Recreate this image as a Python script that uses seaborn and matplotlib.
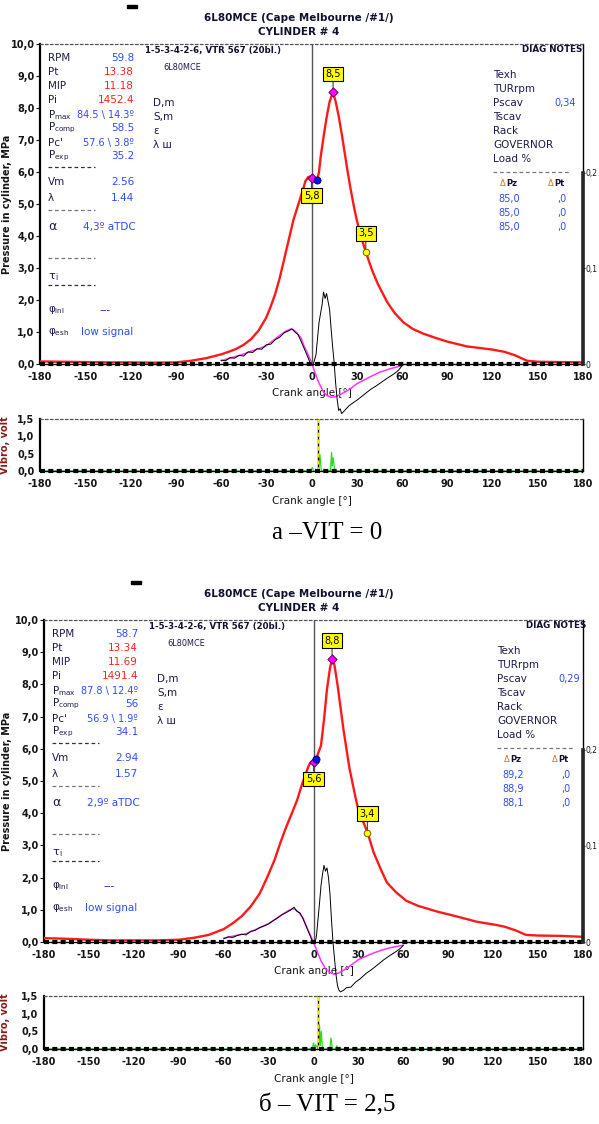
import matplotlib
matplotlib.use("Agg")
import matplotlib.pyplot as plt
import seaborn as sns
from matplotlib.patches import Rectangle

sns.set_style("white")
plt.rcParams['font.family'] = ['DejaVu Sans']
plt.rcParams['axes.unicode_minus'] = False

W, H = 599, 1124

# ---------------- data ----------------
angle_ticks = list(range(-180, 181, 30))
pressure_ticks = [0, 1, 2, 3, 4, 5, 6, 7, 8, 9, 10]
vibro_ticks = [0.0, 0.5, 1.0, 1.5]
right_ticks = [0.0, 0.1, 0.2]

# panel a (VIT = 0)
a_press_angle = [-180, -165, -150, -135, -120, -105, -90, -80, -70, -60, -55, -50, -45, -40, -35, -30, -27, -24, -21, -18,
                 -15, -12, -9, -6, -4, -2, 0, 2, 3.8, 5, 6, 8, 10, 12, 14.3, 16, 18, 20, 22, 24,
                 26, 28, 30, 33, 36, 40, 44, 50, 55, 61, 67, 74, 82, 90, 103, 120, 128, 135, 143, 150, 165, 180]
a_press = [0.08, 0.07, 0.06, 0.05, 0.05, 0.04, 0.05, 0.1, 0.18, 0.3, 0.38, 0.47, 0.6, 0.78, 1.05, 1.45, 1.8, 2.2, 2.7, 3.3,
           3.9, 4.5, 4.95, 5.4, 5.72, 5.85, 5.86, 5.72, 5.76, 6.0, 6.45, 7.1, 7.7, 8.2, 8.5, 8.2, 7.75, 7.2, 6.6, 6.0,
           5.45, 4.95, 4.5, 3.95, 3.5, 2.95, 2.5, 1.95, 1.6, 1.3, 1.1, 0.95, 0.82, 0.7, 0.55, 0.45, 0.38, 0.27, 0.1, 0.07, 0.06, 0.05]
a_hr_angle = [-60, -55, -50, -45, -40, -35, -30, -25, -20, -17, -14, -12, -10, -7, -5, -3, 0, 3, 5, 8, 10, 13, 16, 20, 25, 30, 38, 45, 52, 60]
a_hr = [0.1, 0.17, 0.24, 0.31, 0.4, 0.48, 0.57, 0.75, 0.93, 1.03, 1.09, 1.07, 0.99, 0.82, 0.57, 0.37, 0.05, -0.36, -0.6, -0.88,
        -0.98, -1.04, -1.02, -0.93, -0.8, -0.62, -0.42, -0.26, -0.15, -0.05]
a_bl_angle = [-60, -57, -54, -51, -48, -45, -42, -39, -36, -33, -30, -27, -24, -21, -18, -15, -13, -11, -9, -7,
              -5, -3, -1, 1, 3, 5, 7, 8, 9, 10, 11, 12, 13, 14, 15, 16, 17, 18, 19, 20,
              22, 25, 28, 31, 35, 39, 43, 47, 51, 55, 58, 60]
a_bl = [0.12, 0.1, 0.2, 0.18, 0.27, 0.25, 0.38, 0.36, 0.48, 0.46, 0.6, 0.62, 0.76, 0.84, 0.98, 1.04, 1.1, 1.0, 0.92, 0.72,
        0.5, 0.28, 0.05, -0.05, 0.3, 1.3, 1.85, 2.25, 2.05, 2.2, 1.95, 1.7, 1.1, 0.55, 0.05, -0.6, -1.1, -1.45, -1.4, -1.55,
        -1.45, -1.3, -1.2, -1.1, -0.95, -0.8, -0.68, -0.55, -0.42, -0.3, -0.18, -0.05]
a_mark_angle = [0.0, 14.3, 36.0]
a_mark_val = [5.8, 8.5, 3.5]
a_pc_angle, a_pc_val = 3.8, 5.76
a_vib_angle = [-180, -0.5, 0.5, 1.5, 4.5, 5.6, 6.5, 12.5, 13.3, 13.8, 14.3, 15.5, 40.5, 41.5, 42.5, 180]
a_vib = [0, 0, 0.1, 0, 0, 0.47, 0, 0, 0.54, 0.15, 0.38, 0, 0, 0.03, 0, 0]
a_alpha = 4.3
a_params = ["59.8", "13.38", "11.18", "1452.4", "84.5 \\ 14.3º", "58.5", "57.6 \\ 3.8º", "35.2"]
a_vm_lambda = ["2.56", "1.44"]
a_alpha_txt = "4,3º aTDC"
a_pscav = "0,34"
a_dpz = [85.0, 85.0, 85.0]
a_dpt = [0.0, 0.0, 0.0]

# panel b (VIT = 2,5)
b_press_angle = [-180, -165, -150, -135, -120, -105, -90, -80, -70, -60, -54, -48, -42, -36, -31, -26, -22, -18, -14, -11,
                 -8, -5, -3, -1, 0, 1.9, 3, 5, 7, 9, 11, 12.4, 14, 16, 18, 20, 22, 24, 26, 28,
                 30, 33, 36, 40, 45, 49, 55, 62, 70, 83, 96, 109, 122, 128, 135, 142, 150, 165, 180]
b_press = [0.12, 0.1, 0.07, 0.05, 0.05, 0.05, 0.07, 0.13, 0.22, 0.4, 0.58, 0.8, 1.1, 1.5, 2.0, 2.55, 3.1, 3.6, 4.05, 4.4,
           4.85, 5.25, 5.5, 5.62, 5.65, 5.7, 5.85, 6.1, 6.9, 7.85, 8.5, 8.8, 8.6, 8.0, 7.3, 6.6, 6.0, 5.4, 4.95, 4.5,
           4.1, 3.75, 3.42, 2.8, 2.25, 1.85, 1.55, 1.28, 1.12, 0.94, 0.79, 0.63, 0.53, 0.47, 0.36, 0.22, 0.2, 0.19, 0.16]
b_hr_angle = [-60, -55, -50, -45, -40, -35, -30, -25, -20, -17, -14, -12, -10, -7, -5, -3, 0, 3, 5, 8, 11, 14, 17, 20, 25, 30, 38, 45, 52, 60]
b_hr = [0.12, 0.17, 0.22, 0.26, 0.36, 0.46, 0.57, 0.72, 0.88, 0.97, 1.04, 1.0, 0.93, 0.75, 0.52, 0.3, 0.0, -0.36, -0.58, -0.83,
        -0.95, -1.0, -0.96, -0.88, -0.72, -0.55, -0.38, -0.26, -0.17, -0.1]
b_bl_angle = [-60, -57, -54, -51, -48, -45, -42, -39, -36, -33, -30, -27, -24, -21, -18, -15, -13, -11, -9, -7,
              -5, -3, -1, 1, 2, 4, 5, 6, 7, 8, 9, 10, 11, 12, 13, 14, 15, 16, 17, 18,
              20, 22, 25, 28, 31, 35, 39, 43, 47, 51, 55, 58, 60]
b_bl = [0.1, 0.16, 0.14, 0.2, 0.24, 0.22, 0.33, 0.36, 0.45, 0.5, 0.56, 0.66, 0.75, 0.85, 0.92, 1.0, 1.08, 0.95, 0.9, 0.72,
        0.5, 0.28, 0.05, -0.05, 0.2, 1.2, 1.75, 2.1, 2.38, 2.2, 2.3, 2.0, 1.5, 0.7, 0.0, -0.5, -1.0, -1.35, -1.5, -1.55,
        -1.5, -1.42, -1.4, -1.25, -1.15, -0.98, -0.85, -0.7, -0.55, -0.42, -0.3, -0.2, -0.1]
b_mark_angle = [0.0, 12.4, 36.0]
b_mark_val = [5.6, 8.8, 3.4]
b_pc_angle, b_pc_val = 1.9, 5.69
b_vib_angle = [-180, -0.8, 0, 0.8, 1.5, 3.2, 4.0, 4.6, 5.2, 6, 10.8, 11.7, 12.6, 14.8, 15.5, 16.2, 180]
b_vib = [0, 0, 0.17, 0.05, 0.12, 0, 0.68, 0.1, 0.5, 0, 0, 0.31, 0, 0, 0.09, 0, 0]
b_alpha = 2.9
b_params = ["58.7", "13.34", "11.69", "1491.4", "87.8 \\ 12.4º", "56", "56.9 \\ 1.9º", "34.1"]
b_vm_lambda = ["2.94", "1.57"]
b_alpha_txt = "2,9º aTDC"
b_pscav = "0,29"
b_dpz = [89.2, 88.9, 88.1]
b_dpt = [0.0, 0.0, 0.0]

param_labels = ["RPM", "Pt", "MIP", "Pi", "P$_{\\mathregular{max}}$", "P$_{\\mathregular{comp}}$", "Pc'", "P$_{\\mathregular{exp}}$"]
param_colors = ["blue", "red", "red", "red", "blue", "blue", "blue", "blue"]
right_labels = ["Texh", "TURrpm", "Pscav", "Tscav", "Rack", "GOVERNOR", "Load %"]
mid_labels = ["D,m", "S,m", "ε", "λ ш"]

NAVY = '#1c1c4a'
BLUE = '#2f4cff'
RED = '#ff2020'
DARK = '#151515'
COLORS = {"blue": BLUE, "red": RED}

panels = [
    dict(main=(40, 44, 583, 364), vib=(40, 419, 583, 471), org=(40, 44), cap_y=533,
         caption="а –VIT = 0", pa=a_press_angle, p=a_press, ha=a_hr_angle, h=a_hr, ba=a_bl_angle, b=a_bl,
         ma=a_mark_angle, mv=a_mark_val, pca=a_pc_angle, pcv=a_pc_val, va=a_vib_angle, v=a_vib, alpha=a_alpha,
         params=a_params, vml=a_vm_lambda, alpha_txt=a_alpha_txt, pscav=a_pscav, dpz=a_dpz, dpt=a_dpt),
    dict(main=(44, 620, 583, 942), vib=(44, 996, 583, 1049), org=(44, 620), cap_y=1105,
         caption="б – VIT = 2,5", pa=b_press_angle, p=b_press, ha=b_hr_angle, h=b_hr, ba=b_bl_angle, b=b_bl,
         ma=b_mark_angle, mv=b_mark_val, pca=b_pc_angle, pcv=b_pc_val, va=b_vib_angle, v=b_vib, alpha=b_alpha,
         params=b_params, vml=b_vm_lambda, alpha_txt=b_alpha_txt, pscav=b_pscav, dpz=b_dpz, dpt=b_dpt),
]


def rect(l, t, r, b):
    return [l / W, 1 - b / H, (r - l) / W, (b - t) / H]


def comma(v, nd=1):
    return f"{v:.{nd}f}".replace('.', ',')


fig = plt.figure(figsize=(W / 100, H / 100), dpi=100)
fig.patch.set_facecolor('white')


def style_common(ax):
    ax.set_facecolor('none')
    ax.set_xlim(-180, 180)
    ax.set_xticks(angle_ticks)
    ax.set_xticklabels([str(t) for t in angle_ticks], fontsize=7, fontweight='bold', color=DARK)
    ax.tick_params(axis='x', length=3, width=0.8, pad=3, colors=DARK)
    ax.tick_params(axis='y', length=3, width=0.8, pad=1, colors=DARK)
    ax.spines['left'].set_linewidth(1.6)
    ax.spines['left'].set_color('black')
    ax.spines['right'].set_linewidth(1.0)
    ax.spines['right'].set_color('black')
    ax.spines['top'].set_linestyle((0, (2, 2)))
    ax.spines['top'].set_color('#555555')
    ax.spines['top'].set_linewidth(0.9)
    ax.spines['bottom'].set_visible(False)
    ax.axhline(0, color='black', lw=1.0, zorder=6, clip_on=False)
    ax.axhline(0, color='black', lw=3.0, ls=(0, (1.2, 0.8)), zorder=6, clip_on=False)


for pn in panels:
    l, t, r, b = pn['main']
    ax = fig.add_axes(rect(l, t, r, b))
    style_common(ax)
    ax.set_ylim(0, 10)
    ax.set_yticks(pressure_ticks)
    ax.set_yticklabels([comma(v) for v in pressure_ticks], fontsize=7, fontweight='bold', color=DARK)
    ax.set_xlabel("Crank angle [°]", fontsize=7.5, color=DARK)
    ax.xaxis.set_label_coords(0.5, -(24) / (b - t))
    ax.set_ylabel("Pressure in cylinder, MPa", fontsize=7, fontweight='bold', color=DARK)
    ax.yaxis.set_label_coords(-(l - 12) / (r - l), 0.5)

    ax.axvline(0, color='#555555', lw=1.0, zorder=2)
    sns.lineplot(x=pn['ha'], y=pn['h'], ax=ax, color='#ff33ff', lw=1.1, clip_on=False, zorder=3)
    sns.lineplot(x=pn['ba'], y=pn['b'], ax=ax, color='black', lw=0.7, clip_on=False, zorder=3)
    sns.lineplot(x=pn['pa'], y=pn['p'], ax=ax, color='#ff1a1a', lw=1.7, zorder=4)

    # markers and yellow labels
    mcols = [('#ff00ff', '#660066'), ('#ff00ff', '#660066'), ('#ffff00', '#666600')]
    offs = [-12.5, 13.0, 13.5]
    for ang, val, (fc, ec), dy in zip(pn['ma'], pn['mv'], mcols, offs):
        ax.annotate(comma(val), xy=(ang, val), xytext=(0, dy), textcoords='offset points',
                    ha='center', va='center', fontsize=7, color='black', zorder=8,
                    bbox=dict(boxstyle='square,pad=0.25', fc='#ffff00', ec='black', lw=0.8),
                    arrowprops=dict(arrowstyle='-', color='#444444', lw=0.8, shrinkA=0, shrinkB=0))
        sns.scatterplot(x=[ang], y=[val], ax=ax, color=fc, edgecolor=ec, marker='D' if fc == '#ff00ff' else 'o',
                        s=22, linewidth=0.7, zorder=9)
    sns.scatterplot(x=[pn['pca']], y=[pn['pcv']], ax=ax, color='#0010ee', edgecolor='#000060', s=26,
                    linewidth=0.6, zorder=9)

    # secondary right axis
    ax2 = ax.twinx()
    ax2.set_ylim(0, 0.335)
    ax2.set_yticks(right_ticks)
    ax2.set_yticklabels(["0", "0,1", "0,2"], fontsize=5.5, color=DARK)
    ax2.tick_params(axis='y', length=1.5, width=0.8, pad=0.3)
    for s in ['top', 'left', 'bottom']:
        ax2.spines[s].set_visible(False)
    ax2.spines['right'].set_bounds(0, 0.2)
    ax2.spines['right'].set_linewidth(2.6)

    # vibro panel
    l, t, r, b = pn['vib']
    axv = fig.add_axes(rect(l, t, r, b))
    style_common(axv)
    axv.set_ylim(0, 1.5)
    axv.set_yticks(vibro_ticks)
    axv.set_yticklabels([comma(v) for v in vibro_ticks], fontsize=7, fontweight='bold', color=DARK)
    axv.set_xlabel("Crank angle [°]", fontsize=7.5, color=DARK)
    axv.xaxis.set_label_coords(0.5, -(25) / (b - t))
    axv.set_ylabel("Vibro, volt", fontsize=7, fontweight='bold', color='#8b1a1a')
    axv.yaxis.set_label_coords(-(l - 10) / (r - l), 0.5)
    axv.axvline(pn['alpha'], color='black', lw=1.0, zorder=3)
    axv.axvline(pn['alpha'], color='#ffee00', lw=1.0, ls=(0, (3, 2)), zorder=4)
    sns.lineplot(x=pn['va'], y=pn['v'], ax=axv, color='#22e022', lw=0.9, zorder=2)

# ---------------- overlay text (pixel coordinates) ----------------
ov = fig.add_axes([0, 0, 1, 1])
ov.set_xlim(0, W)
ov.set_ylim(H, 0)
ov.axis('off')


def T(x, y, s, **kw):
    kw.setdefault('fontsize', 7.5)
    kw.setdefault('color', NAVY)
    kw.setdefault('va', 'center')
    ov.text(x, y, s, **kw)


for pn in panels:
    ox, oy = pn['org']
    ov.add_patch(Rectangle((ox + 87, oy - 39), 10, 3, color='black'))
    T(299, oy - 26, "6L80MCE (Cape Melbourne /#1/)", ha='center', fontweight='bold', color='#101030')
    T(299, oy - 12, "CYLINDER # 4", ha='center', fontweight='bold', color='#101030')
    T(ox + 105, oy + 6, "1-5-3-4-2-6, VTR 567 (20bl.)", fontsize=6.2, fontweight='bold', color='#101030')
    T(ox + 123, oy + 23, "6L80MCE", fontsize=5.9, color=NAVY)
    T(ox + 542, oy + 6, "DIAG NOTES", fontsize=6.3, fontweight='bold', color='#101030', ha='right')

    ys = [14, 28, 42, 56, 71, 84, 99, 112]
    for lab, val, col, y in zip(param_labels, pn['params'], param_colors, ys):
        T(ox + 8, oy + y, lab)
        T(ox + 94, oy + y, val, ha='right', color=COLORS[col], fontsize=7.5 if len(val) < 8 else 7)
    T(ox + 8, oy + 138, "Vm")
    T(ox + 94, oy + 138, pn['vml'][0], ha='right', color=BLUE)
    T(ox + 8, oy + 154, "λ")
    T(ox + 94, oy + 154, pn['vml'][1], ha='right', color=BLUE)
    for y, c in zip([123, 166, 214, 241], ['#333333', '#777777', '#777777', '#333333']):
        ov.plot([ox + 8, ox + 55], [oy + y, oy + y], color=c, lw=0.9, ls=(0, (3, 2.2)))
    T(ox + 8, oy + 183, "α", fontsize=9)
    T(ox + 43, oy + 183, pn['alpha_txt'], color=BLUE)
    T(ox + 8, oy + 232, "τ", fontsize=8)
    T(ox + 15, oy + 233, "i", fontsize=5.5)
    T(ox + 8, oy + 266, "φ$_{\\mathregular{inl}}$")
    T(ox + 60, oy + 266, "---", color='#2020cc')
    T(ox + 8, oy + 288, "φ$_{\\mathregular{esh}}$")
    T(ox + 41, oy + 288, "low signal", color=BLUE)

    for i, lab in enumerate(mid_labels):
        T(ox + 113, oy + 59 + 14 * i, lab)

    for i, lab in enumerate(right_labels):
        T(ox + 453, oy + 31 + 14 * i, lab)
    T(ox + 536, oy + 59, pn['pscav'], ha='right', color=BLUE, fontsize=7)
    ov.plot([ox + 453, ox + 530], [oy + 128, oy + 128], color='#777777', lw=0.9, ls=(0, (3, 2.2)))
    T(ox + 460, oy + 140, "Δ", fontsize=6, color='#e07020')
    T(ox + 466, oy + 140, "Pz", fontsize=6, fontweight='bold', color='#101030')
    T(ox + 508, oy + 140, "Δ", fontsize=6, color='#e07020')
    T(ox + 514, oy + 140, "Pt", fontsize=6, fontweight='bold', color='#101030')
    for i, (dz, dt) in enumerate(zip(pn['dpz'], pn['dpt'])):
        T(ox + 458, oy + 155 + 14 * i, comma(dz), color=BLUE, fontsize=7)
        T(ox + 527, oy + 155 + 14 * i, comma(dt).lstrip('0'), color=BLUE, fontsize=7, ha='right')

    T(327, pn['cap_y'], pn['caption'], ha='center', fontsize=18, color='black', family='Liberation Serif')

fig.savefig("out.png", dpi=100, facecolor='white')
